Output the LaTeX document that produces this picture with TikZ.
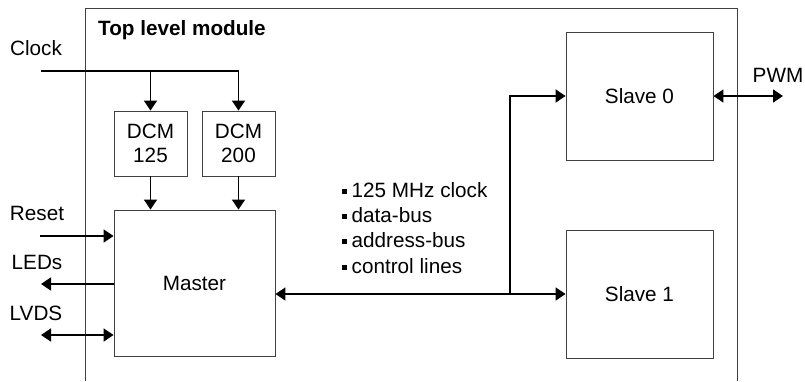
\documentclass[tikz,border=0pt]{standalone}
\usepackage{fontspec}
\setmainfont{Liberation Sans}
\usetikzlibrary{arrows.meta}
\begin{document}
\begin{tikzpicture}[x=1pt,y=-1pt,
  every node/.style={font=\fontsize{20.7}{23.5}\selectfont},
  blk/.style={draw=black!75,line width=0.9pt,inner sep=0pt,align=center},
  frame/.style={draw=black!75,line width=0.9pt},
  conn/.style={draw=black,line width=1.8pt},
  tip/.style={-{Triangle[length=10pt,width=13pt]}},
  dtip/.style={{Triangle[length=10pt,width=13pt]}-{Triangle[length=10pt,width=13pt]}},
  lbl/.style={inner sep=0pt},
  bul/.style={inner sep=0pt,anchor=base west}]
\useasboundingbox (0,0) rectangle (805,381);
% top level frame
\draw[frame] (85,381) -- (85,8) -- (737,8) -- (737,381);
\node[lbl,anchor=west,font=\fontsize{20.7}{23.5}\selectfont\bfseries] (title) at (98,30) {Top level module};
% blocks
\node[blk,minimum width=73pt,minimum height=65pt] (dcm125) at (150.5,143.5) {DCM\\125};
\node[blk,minimum width=73pt,minimum height=65pt] (dcm200) at (238.5,143.5) {DCM\\200};
\node[blk,minimum width=161pt,minimum height=146pt] (master) at (194.5,283) {Master};
\node[blk,minimum width=147pt,minimum height=128pt] (slave0) at (639.5,96) {Slave 0};
\node[blk,minimum width=147pt,minimum height=128pt] (slave1) at (639.5,294) {Slave 1};
% labels
\node[lbl] (clock) at (36,48) {Clock};
\node[lbl] (reset) at (37,213) {Reset};
\node[lbl] (ledsl) at (37,262) {LEDs};
\node[lbl] (lvdsl) at (36,313) {LVDS};
\node[lbl] (pwml) at (778,75) {PWM};
\newcommand{\bsq}{\rule[3.5pt]{4.5pt}{4.5pt}\hspace{5pt}}
\node[bul] (b1) at (342,197) {\bsq 125 MHz clock};
\node[bul] (b2) at (342,222) {\bsq data-bus};
\node[bul] (b3) at (342,247) {\bsq address-bus};
\node[bul] (b4) at (342,273) {\bsq control lines};
% coordinates
\coordinate (clkin) at (41,71);
\coordinate (rst) at (40,236);
\coordinate (leds) at (41,284);
\coordinate (lvds) at (41,335);
\coordinate (jn) at (510,294);
\coordinate (pwm) at (783,96);
% connectors
\draw[conn,tip] (clkin) -- (clkin -| dcm200.north) -- (dcm200.north);
\draw[conn,tip] (clkin -| dcm125.north) -- (dcm125.north);
\draw[conn,tip] (dcm125.south) -- (dcm125.south |- master.north);
\draw[conn,tip] (dcm200.south) -- (dcm200.south |- master.north);
\draw[conn,tip] (rst) -- (rst -| master.west);
\draw[conn,tip] (leds -| master.west) -- (leds);
\draw[conn,dtip] (lvds) -- (lvds -| master.west);
\draw[conn,dtip] (master.east |- slave1.west) -- (slave1.west);
\draw[conn,tip] (jn) -- (jn |- slave0.west) -- (slave0.west);
\draw[conn,dtip] (slave0.east) -- (pwm);
\end{tikzpicture}
\end{document}
